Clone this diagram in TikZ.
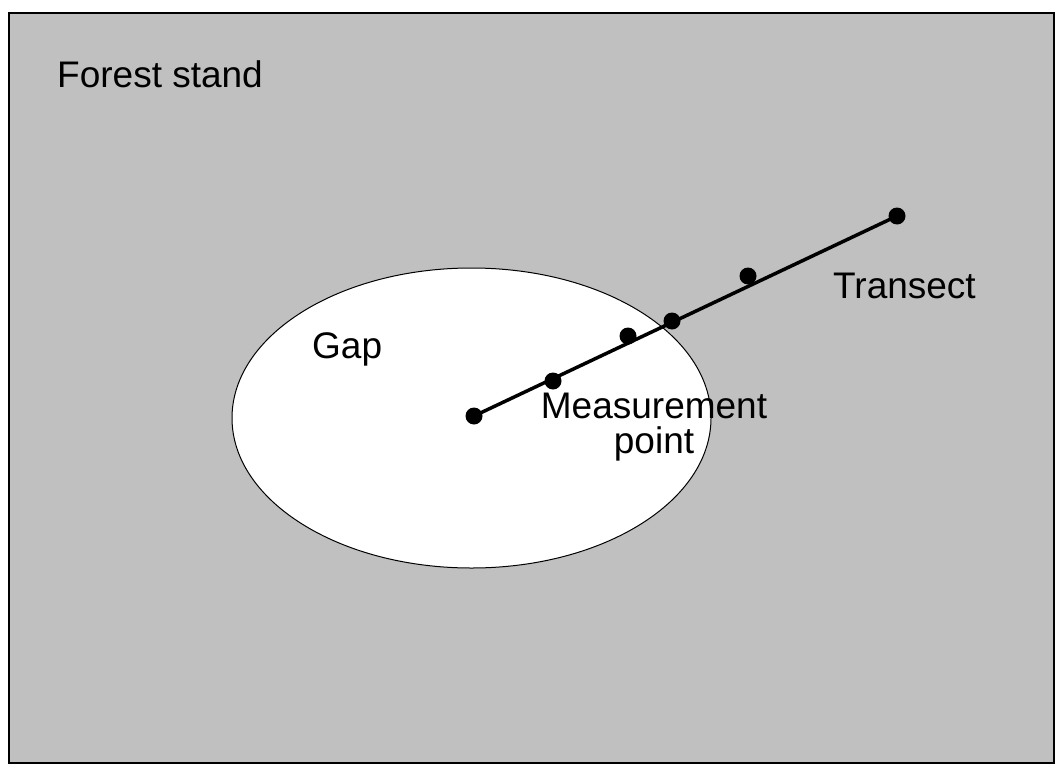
\documentclass[tikz,border=0pt]{standalone}
\usepackage{fontspec}
\setmainfont{Liberation Sans}
\definecolor{standgray}{RGB}{192,192,192}
\begin{document}
\begin{tikzpicture}[x=1pt,y=-1pt,
  lbl/.style={inner sep=0pt, font=\fontsize{37}{35}\selectfont},
  mpt/.style={circle, fill=black, inner sep=0pt, minimum size=17pt},
  transect/.style={line width=3.5pt}]
\useasboundingbox (0,0) rectangle (1056,765);
\draw[fill=standgray, line width=2pt] (9,13) rectangle (1054,763);
\draw[fill=white, line width=1pt] (471.5,418) ellipse [x radius=239.5, y radius=150];
\node[mpt] (p0) at (474,416) {};
\node[mpt] (p1) at (553,381) {};
\node[mpt] (p2) at (628,336) {};
\node[mpt] (p3) at (672,321) {};
\node[mpt] (p4) at (748,276) {};
\node[mpt] (p5) at (897,216) {};
\draw[transect] (p0.center) -- (p5.center);
\node[lbl, anchor=base west] (fs) at (57,88) {Forest stand};
\node[lbl, anchor=base west] (gap) at (312,358) {Gap};
\node[lbl, anchor=base west] (tr) at (833,298) {Transect};
\node[lbl, anchor=base, align=center] (mp) at (654,453) {Measurement\\point};
\end{tikzpicture}
\end{document}
